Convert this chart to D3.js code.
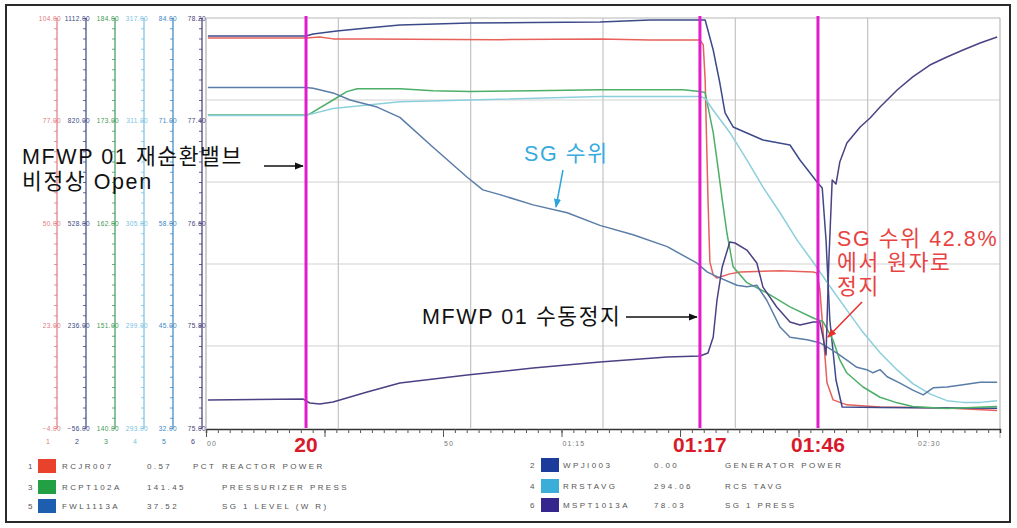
<!DOCTYPE html>
<html>
<head>
<meta charset="utf-8">
<script src="https://cdn.jsdelivr.net/npm/d3@7"></script>
<style>
  html, body { margin: 0; padding: 0; background: #fff; }
  svg { display: block; font-family: "Liberation Sans", Arial, sans-serif; }
</style>
</head>
<body>
<svg id="chart" width="1017" height="528"></svg>
<script>
// ---- channel definitions (trend recorder pens 1..6) ----
const channelIds    = [1, 2, 3, 4, 5, 6];
const channelTags   = ["RCJR007", "WPJI003", "RCPT102A", "RRSTAVG", "FWL1113A", "MSPT1013A"];
const channelValues = ["0.57", "0.00", "141.45", "294.06", "37.52", "78.03"];
const channelUnits  = ["PCT", "", "", "", "", ""];
const channelDescs  = ["REACTOR POWER", "GENERATOR POWER", "PRESSURIZER PRESS", "RCS TAVG", "SG 1 LEVEL (W R)", "SG 1 PRESS"];
const axisBottom    = [-4, -56, 140, 293, 32, 75.0];
const axisTop       = [104, 1112, 184, 317, 84, 78.2];

// ---- time axis (seconds) ----
const timeTicks      = [0, 50, 75, 150];
const timeTickLabels = ["00", "50", "01:15", "02:30"];
const eventTimes     = [21.1, 104.2, 129.1];
const eventLabels    = ["20", "01:17", "01:46"];

// ---- recorded traces: [time s, value] ----
const reactorPower = [[0.4,98.7],[21.1,98.7],[24.0,99.0],[26.8,98.5],[34.0,98.5],[62.0,98.3],[83.1,98.5],[93.7,98.2],[104.2,98.2],[104.9,96.9],[105.3,87.7],[105.9,56.1],[106.3,39.7],[107.0,36.3],[107.8,35.5],[110.5,36.6],[112.7,37.1],[121.1,37.4],[128.1,37.1],[128.9,36.8],[129.5,32.4],[130.2,21.0],[131.0,7.9],[132.3,3.4],[135.2,2.1],[142.2,1.5],[156.3,1.3],[166.9,0.6]];
const generatorPower = [[0.4,1060.7],[21.1,1060.7],[22.6,1066.4],[27.6,1075.0],[34.0,1083.5],[40.9,1092.0],[55.7,1097.8],[69.0,1099.2],[83.1,1100.6],[93.7,1106.3],[104.2,1106.3],[105.3,1106.3],[107.0,1020.8],[108.4,926.8],[109.5,841.4],[111.2,801.5],[114.1,784.4],[117.5,764.5],[123.2,750.2],[125.3,707.5],[128.9,644.8],[130.0,627.7],[130.8,479.6],[131.6,251.7],[132.9,80.7],[134.2,3.8],[142.2,2.4],[166.9,0.0]];
const pressurizerPress = [[0.4,173.6],[21.1,173.6],[21.9,173.7],[26.8,175.2],[29.7,176.1],[31.9,176.4],[40.9,176.4],[47.9,176.2],[55.7,176.1],[69.0,176.2],[83.1,176.3],[100.6,176.3],[104.2,176.1],[105.3,176.0],[107.0,171.7],[108.0,168.0],[108.9,164.5],[109.9,160.9],[111.2,157.3],[114.1,155.6],[118.3,154.5],[123.2,153.0],[128.1,151.8],[130.2,151.4],[132.3,149.4],[133.7,147.3],[135.2,145.9],[138.6,144.4],[142.2,143.3],[145.8,142.7],[149.1,142.3],[156.3,142.1],[166.9,142.3]];
const rcsTavg = [[0.4,311.3],[21.1,311.3],[26.8,311.7],[40.9,312.1],[55.7,312.2],[83.1,312.4],[104.2,312.4],[105.3,312.3],[107.0,311.6],[110.5,310.3],[114.1,308.7],[117.5,307.1],[121.1,305.6],[124.7,304.0],[128.1,302.7],[131.6,301.3],[135.2,299.9],[138.6,298.6],[142.2,297.4],[145.8,296.4],[149.1,295.6],[152.7,295.0],[156.3,294.6],[159.7,294.5],[163.3,294.5],[166.9,294.6]];
const sgLevel = [[0.4,75.2],[21.1,75.2],[22.6,75.1],[26.8,74.5],[30.4,73.6],[36.1,72.7],[40.9,71.4],[47.9,67.6],[55.1,63.8],[58.4,62.2],[62.0,61.6],[69.0,60.3],[76.2,59.3],[83.1,57.7],[90.1,56.5],[97.3,55.0],[103.6,52.9],[105.7,51.8],[107.8,51.2],[112.0,50.1],[114.1,49.9],[116.2,50.1],[118.3,48.2],[121.1,44.8],[123.2,43.5],[126.8,43.2],[129.5,42.8],[131.0,42.3],[133.1,41.5],[135.2,40.6],[137.3,39.7],[139.4,39.4],[140.7,39.0],[142.2,39.4],[143.7,38.5],[146.4,37.7],[149.1,36.8],[151.3,36.2],[153.4,37.1],[156.3,37.2],[159.7,37.5],[163.3,37.8],[166.9,37.8]];
const sgPress = [[0.4,75.219],[20.5,75.226],[21.9,75.195],[24.0,75.187],[26.8,75.203],[34.0,75.281],[40.9,75.351],[55.1,75.414],[69.0,75.468],[83.1,75.515],[97.3,75.554],[104.2,75.562],[105.9,75.585],[107.0,75.710],[107.8,75.999],[108.9,76.257],[110.5,76.452],[111.6,76.444],[114.1,76.389],[116.2,76.288],[117.5,76.100],[120.4,75.944],[123.2,75.827],[125.3,75.804],[128.1,75.827],[129.5,75.827],[130.2,75.702],[130.8,75.570],[131.4,76.311],[132.1,76.936],[132.9,76.904],[133.7,77.076],[135.2,77.224],[138.0,77.349],[140.1,77.420],[142.2,77.505],[145.8,77.638],[149.1,77.740],[152.7,77.833],[156.3,77.896],[159.7,77.950],[163.3,78.005],[166.9,78.052]];

const seriesData = [reactorPower, generatorPower, pressurizerPress, rcsTavg, sgLevel, sgPress];

// ---- styling ----
const lineColors   = ["#e8605a", "#3c4a8a", "#4caf68", "#8ccfdc", "#5a7da8", "#4a4284"];
const axisColors   = ["#e07a80", "#3a4880", "#3d9a55", "#78c2e0", "#3a86c0", "#3f3a78"];
const swatchColors = ["#e8412c", "#1c3c9c", "#23a043", "#3aaed8", "#1e5eb0", "#35268e"];
const eventColor = "#e01ccc";
const labelRed = "#d81a2a";

const plot = { left: 206, right: 1000, top: 18, bottom: 428 };

const svg = d3.select("#chart");

// outer frame
svg.append("rect").attr("x", 6).attr("y", 5).attr("width", 1004).attr("height", 517)
  .attr("fill", "#fff").attr("stroke", "#2a2a2a").attr("stroke-width", 2);

// scales
const x = d3.scaleLinear().domain([0, 167.5]).range([plot.left, plot.right]);
const yScales = axisBottom.map((b, i) => d3.scaleLinear().domain([b, axisTop[i]]).range([plot.bottom, plot.top]));

// grid (6 x 5 divisions of the chart paper)
const gx = d3.scaleLinear().domain([0, 6]).range([plot.left, plot.right]);
const gy = d3.scaleLinear().domain([0, 5]).range([plot.bottom, plot.top]);
const grid = svg.append("g");
grid.selectAll("line.h").data(d3.range(1, 5)).join("line")
  .attr("x1", plot.left).attr("x2", plot.right)
  .attr("y1", d => gy(d)).attr("y2", d => gy(d))
  .attr("stroke", "#d2d2d2").attr("stroke-width", 1.2);
grid.selectAll("line.v").data(d3.range(1, 6)).join("line")
  .attr("x1", d => gx(d)).attr("x2", d => gx(d))
  .attr("y1", plot.top).attr("y2", plot.bottom)
  .attr("stroke", "#c4c4c4").attr("stroke-width", 1.2);
// plot border
grid.append("line").attr("x1", plot.left).attr("x2", plot.right).attr("y1", plot.top).attr("y2", plot.top)
  .attr("stroke", "#b8b8b8").attr("stroke-width", 1.2);
grid.append("line").attr("x1", plot.left).attr("x2", plot.left).attr("y1", plot.top).attr("y2", plot.bottom)
  .attr("stroke", "#b0b0b0").attr("stroke-width", 1.2);
grid.append("line").attr("x1", plot.right).attr("x2", plot.right).attr("y1", plot.top).attr("y2", 438)
  .attr("stroke", "#b8b8b8").attr("stroke-width", 1.2);

// ---- left pen axes ----
const axisX = [57, 86, 115, 144, 173, 202];
channelIds.forEach((id, i) => {
  const s = yScales[i];
  const b = axisBottom[i], t = axisTop[i];
  const major = d3.range(5).map(k => b + k * (t - b) / 4);
  const minor = d3.range(41).map(k => b + k * (t - b) / 40);
  const g = svg.append("g").attr("transform", `translate(${axisX[i]},0)`);
  g.call(d3.axisLeft(s).tickValues(minor).tickSize(3).tickFormat(""))
    .call(a => a.select(".domain").remove());
  g.selectAll(".tick line").attr("stroke", axisColors[i]).attr("stroke-width", 0.8);
  g.append("line").attr("y1", plot.top).attr("y2", plot.bottom)
    .attr("stroke", axisColors[i]).attr("stroke-width", 1.2);
  const lg = g.append("g").call(d3.axisLeft(s).tickValues(major).tickSize(0).tickFormat(d3.format(".2f")));
  lg.select(".domain").remove();
  lg.selectAll("text").attr("x", 4).attr("text-anchor", "end")
    .attr("fill", axisColors[i]).attr("font-size", 6.5)
    .attr("letter-spacing", 0.4).attr("font-family", "Liberation Sans, Arial, sans-serif");
  svg.append("text").attr("x", axisX[i] - 9).attr("y", 444)
    .attr("text-anchor", "middle").attr("font-size", 7).attr("fill", axisColors[i])
    .text(id);
});

// ---- traces ----
const traces = svg.append("g");
seriesData.forEach((data, i) => {
  const line = d3.line().x(d => x(d[0])).y(d => yScales[i](d[1]));
  traces.append("path").datum(data).attr("d", line)
    .attr("fill", "none").attr("stroke", lineColors[i]).attr("stroke-width", 1.5)
    .attr("stroke-linejoin", "round");
});

// ---- event markers ----
svg.append("g").selectAll("line").data(eventTimes).join("line")
  .attr("x1", d => x(d)).attr("x2", d => x(d))
  .attr("y1", plot.top - 2).attr("y2", plot.bottom)
  .attr("stroke", eventColor).attr("stroke-width", 3);

// ---- time axis ----
const xa = svg.append("g").attr("transform", `translate(0,${plot.bottom + 1})`);
xa.call(d3.axisBottom(x).tickValues(d3.range(0, 167.5, 2.5)).tickSize(4).tickFormat(""));
xa.select(".domain").attr("stroke", "#333").attr("stroke-width", 1.5);
xa.selectAll(".tick line").attr("stroke", "#555");
const xaM = svg.append("g").attr("transform", `translate(0,${plot.bottom + 1})`);
xaM.call(d3.axisBottom(x).tickValues(d3.range(0, 167.5, 25)).tickSize(8).tickFormat(""));
xaM.select(".domain").remove();
xaM.selectAll(".tick line").attr("stroke", "#555");
svg.append("g").selectAll("text").data(timeTicks).join("text")
  .attr("x", d => x(d) + 1).attr("y", 446)
  .attr("font-size", 7).attr("letter-spacing", 1).attr("fill", "#777")
  .text((d, i) => timeTickLabels[i]);

svg.append("g").selectAll("text").data(eventTimes).join("text")
  .attr("x", d => x(d)).attr("y", 452)
  .attr("text-anchor", "middle").attr("font-size", 21).attr("font-weight", "bold")
  .attr("fill", labelRed).text((d, i) => eventLabels[i]);

// ---- legend ----
const legendCols = [
  { ids: [0, 2, 4], num: 28, sw: 38, tag: 62, val: 147, unit: 193, desc: 222, rows: [466, 487, 506] },
  { ids: [1, 3, 5], num: 530, sw: 541, tag: 563, val: 654, unit: 696, desc: 725, rows: [465, 486, 505] }
];
const lg = svg.append("g").attr("font-size", 8).attr("fill", "#555").attr("letter-spacing", 2.4);
legendCols.forEach(c => {
  c.ids.forEach((ci, r) => {
    const yy = c.rows[r];
    lg.append("text").attr("x", c.num).attr("y", yy + 3).text(channelIds[ci]);
    lg.append("rect").attr("x", c.sw).attr("y", yy - 7).attr("width", 18).attr("height", 14)
      .attr("fill", swatchColors[ci]);
    lg.append("text").attr("x", c.tag).attr("y", yy + 3).text(channelTags[ci]);
    lg.append("text").attr("x", c.val).attr("y", yy + 3).text(channelValues[ci]);
    if (channelUnits[ci]) lg.append("text").attr("x", c.unit).attr("y", yy + 3).text(channelUnits[ci]);
    lg.append("text").attr("x", c.desc).attr("y", yy + 3).text(channelDescs[ci]);
  });
});

// ---- annotations ----
const defs = svg.append("defs");
function marker(id, color) {
  defs.append("marker").attr("id", id).attr("viewBox", "0 0 10 10")
    .attr("refX", 9).attr("refY", 5).attr("markerWidth", 9).attr("markerHeight", 9)
    .attr("markerUnits", "userSpaceOnUse").attr("orient", "auto")
    .append("path").attr("d", "M0,1 L10,5 L0,9 Z").attr("fill", color);
}
marker("arBlack", "#111");
marker("arCyan", "#2aa6dc");
marker("arRed", "#e8302c");

// Latin glyphs from Liberation Sans, Hangul falls back to Noto Sans CJK KR
const ann = svg.append("g").attr("font-family", "'Liberation Sans', 'Noto Sans CJK KR', sans-serif");
const korFont = 21.5;
const korSpacing = 1.6;

// multi-line note as one text block with stacked tspans
function note(lines, x0, y0, lineGap, color) {
  const t = ann.append("text").attr("x", x0).attr("y", y0)
    .attr("font-size", korFont).attr("letter-spacing", korSpacing).attr("fill", color);
  t.selectAll("tspan").data(lines).join("tspan")
    .attr("x", x0).attr("dy", (d, i) => i === 0 ? 0 : lineGap)
    .text(d => d);
  return t;
}

note(["MFWP 01 재순환밸브", "비정상 Open"], 22, 164, 24.5, "#111");
ann.append("line").attr("x1", 264).attr("x2", x(eventTimes[0]) - 3).attr("y1", 166).attr("y2", 166)
  .attr("stroke", "#111").attr("stroke-width", 1.5).attr("marker-end", "url(#arBlack)");

note(["SG 수위"], 524, 161, 0, "#36abe0");
ann.append("line").attr("x1", 563).attr("y1", 170).attr("x2", 556).attr("y2", 207)
  .attr("stroke", "#2aa6dc").attr("stroke-width", 1.5).attr("marker-end", "url(#arCyan)");

note(["MFWP 01 수동정지"], 422, 324, 0, "#111");
ann.append("line").attr("x1", 626).attr("x2", x(eventTimes[1]) - 3).attr("y1", 317).attr("y2", 317)
  .attr("stroke", "#111").attr("stroke-width", 1.5).attr("marker-end", "url(#arBlack)");

note(["SG 수위 42.8%", "에서 원자로", "정지"], 837, 246, 24, "#e84242");
ann.append("line").attr("x1", 862).attr("y1", 302).attr("x2", 828).attr("y2", 337)
  .attr("stroke", "#e8302c").attr("stroke-width", 1.5).attr("marker-end", "url(#arRed)");
</script>
</body>
</html>
